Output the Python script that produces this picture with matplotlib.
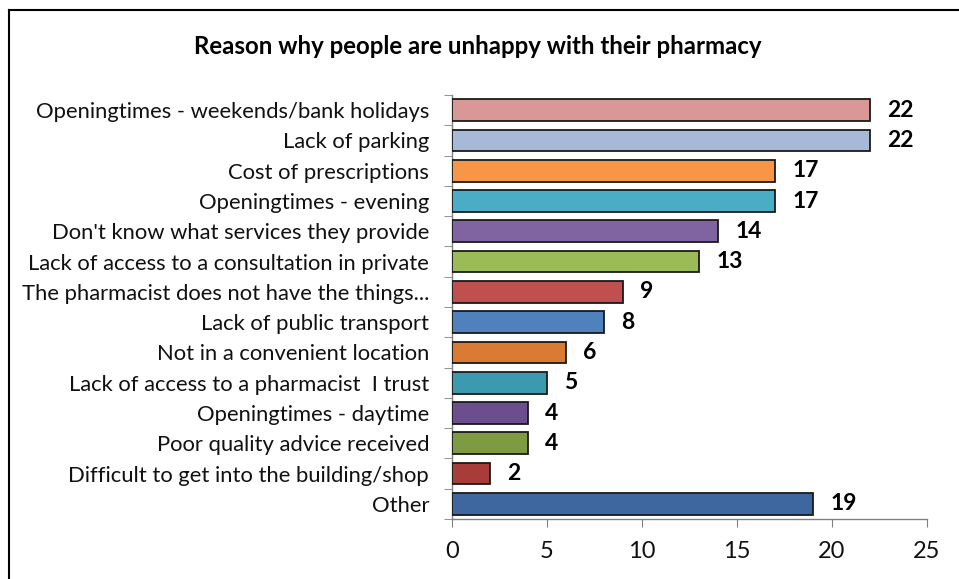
import matplotlib
matplotlib.use("Agg")
import matplotlib.pyplot as plt
from matplotlib.lines import Line2D
import numpy as np

title = "Reason why people are unhappy with their pharmacy"
categories = [
    "Openingtimes - weekends/bank holidays",
    "Lack of parking",
    "Cost of prescriptions",
    "Openingtimes - evening",
    "Don't know what services they provide",
    "Lack of access to a consultation in private",
    "The pharmacist does not have the things...",
    "Lack of public transport",
    "Not in a convenient location",
    "Lack of access to a pharmacist  I trust",
    "Openingtimes - daytime",
    "Poor quality advice received",
    "Difficult to get into the building/shop",
    "Other",
]
values = [22, 22, 17, 17, 14, 13, 9, 8, 6, 5, 4, 4, 2, 19]
colors = ["#D99795", "#A7B9D9", "#F79646", "#4BACC6", "#8064A2", "#9BBB59",
          "#C0504D", "#4F81BD", "#DA7B34", "#3C9AAF", "#6A4F8C", "#7E9B43",
          "#A83C39", "#3E67A0"]
xticks = [0, 5, 10, 15, 20, 25]

plt.rcParams['font.family'] = ['Lato', 'DejaVu Sans']

fig = plt.figure(figsize=(9.59, 5.79), dpi=100)
W, H = 959, 579
ax = fig.add_axes([452 / W, 1 - 519 / H, (927 - 452) / W, (519 - 95) / H])

n = len(categories)
y = np.arange(n)
ax.barh(y, values, height=0.72, color=colors, edgecolor="#1a1a1a", linewidth=1.3, zorder=3)
for yi, v in zip(y, values):
    ax.text(v + 0.9, yi, str(v), va="center", ha="left", fontsize=16.5,
            fontweight="bold", color="black")

ax.set_ylim(n - 0.5, -0.5)
ax.set_xlim(0, 25)
ax.set_yticks(y)
ax.set_yticklabels(categories, fontsize=15.8, color="#111111")
ax.tick_params(axis="y", length=0, pad=16.5)
ax.set_yticks(np.arange(-0.5, n, 1), minor=True)
ax.tick_params(axis="y", which="minor", length=6, direction="out", color="#808080")
ax.set_xticks(xticks)
ax.set_xticklabels([str(t) for t in xticks], fontsize=17, color="#111111")
ax.tick_params(axis="x", length=6, direction="out", color="#808080", pad=10)

for s in ["top", "right"]:
    ax.spines[s].set_visible(False)
for s in ["left", "bottom"]:
    ax.spines[s].set_color("#808080")
    ax.spines[s].set_linewidth(1.0)

fig.text(478 / W, 1 - 47 / H, title, ha="center", va="center", fontsize=17.3,
         fontweight="bold", color="black")

# outer border (top and left)
fig.add_artist(Line2D([9 / W, 1], [1 - 10 / H, 1 - 10 / H], color="black", lw=1.5,
                      transform=fig.transFigure))
fig.add_artist(Line2D([9 / W, 9 / W], [0, 1 - 10 / H], color="black", lw=1.5,
                      transform=fig.transFigure))

fig.savefig("out.png", dpi=100)
